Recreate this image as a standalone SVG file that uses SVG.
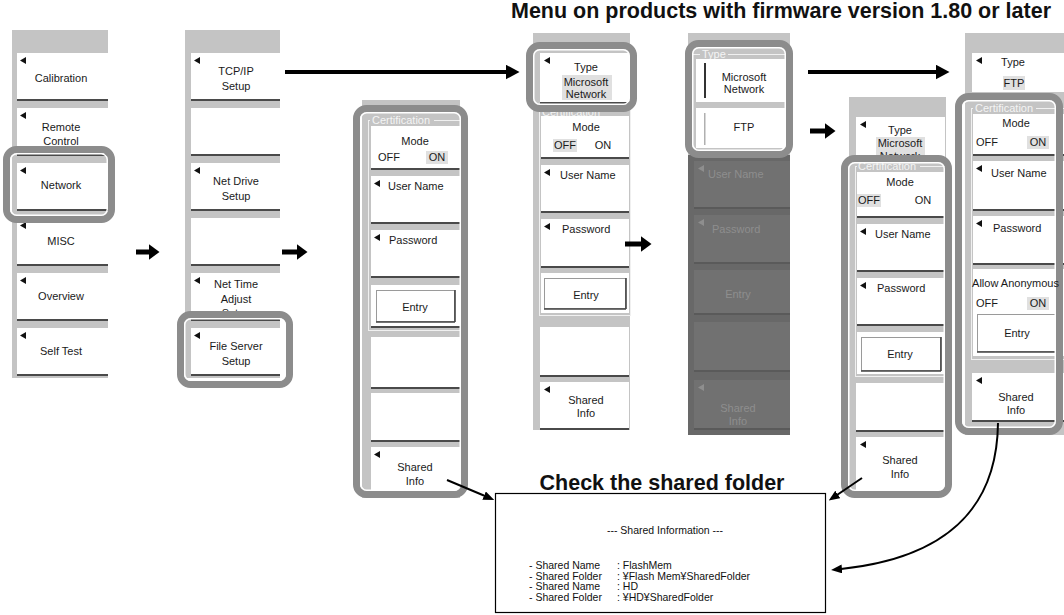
<svg xmlns="http://www.w3.org/2000/svg" width="1064" height="615" viewBox="0 0 1064 615">
<style>
.pg{fill:#c4c4c4}
.pd{fill:#686868}
.bt{fill:#fff}
.bg{fill:#717171}
.dl{fill:#4a4a4a}
.dg{fill:#5a5a5a}
.sel{fill:#e0e0e0}
.t{font-family:"Liberation Sans",Arial,sans-serif;font-size:11px;fill:#1a1a1a;text-anchor:middle}
.ts{text-anchor:start}
.gt{fill:#8e8e8e}
.lb{font-family:"Liberation Sans",Arial,sans-serif;font-size:11px;fill:#f4f4f4}
.fr{fill:none;stroke:#f0f0f0;stroke-width:1}
.hl{fill:none;stroke:#8c8c8c;stroke-width:7}
.hw{fill:none;stroke:#fff;stroke-width:1.5}
.eb{fill:#fff;stroke:#9a9a9a;stroke-width:1}
.er{stroke:#444;stroke-width:1.6}
.ttl{font-family:"Liberation Sans",Arial,sans-serif;font-size:21.5px;font-weight:bold;fill:#111;text-anchor:middle}
.bx{font-family:"Liberation Sans",Arial,sans-serif;font-size:10.5px;fill:#111}
.cn{fill:none;stroke:#000}
.tri{fill:#111}
.trg{fill:#8e8e8e}
</style>
<defs>
<path id="tri" d="M0,3.5 L6,0 L6,7 z"/>
<marker id="hs" markerUnits="userSpaceOnUse" markerWidth="11" markerHeight="16" refX="0.5" refY="8" orient="auto"><path d="M0,0 L11,8 L0,16 z" fill="#000"/></marker>
<marker id="hl" markerUnits="userSpaceOnUse" markerWidth="14" markerHeight="15" refX="0.5" refY="7.5" orient="auto"><path d="M0,0 L14,7.5 L0,15 z" fill="#000"/></marker>
<marker id="hm" markerUnits="userSpaceOnUse" markerWidth="11" markerHeight="9" refX="1" refY="4.5" orient="auto"><path d="M0,0 L11,4.5 L0,9 z" fill="#000"/></marker>
</defs>

<text class="ttl" x="781" y="18">Menu on products with firmware version 1.80 or later</text>

<g id="menu-system">
<rect class="pg" x="12" y="30" width="96" height="348"/>
<rect class="bt" x="17" y="53" width="91" height="46"/><rect class="dl" x="17" y="99" width="91" height="2"/>
<rect class="bt" x="17" y="108" width="91" height="46"/><rect class="dl" x="17" y="154" width="91" height="2"/>
<rect class="bt" x="17" y="163" width="91" height="46"/><rect class="dl" x="17" y="209" width="91" height="2"/>
<rect class="bt" x="17" y="218" width="91" height="46"/><rect class="dl" x="17" y="264" width="91" height="2"/>
<rect class="bt" x="17" y="273" width="91" height="46"/><rect class="dl" x="17" y="319" width="91" height="2"/>
<rect class="bt" x="17" y="328" width="91" height="46"/><rect class="dl" x="17" y="374" width="91" height="2"/>
<use href="#tri" class="tri" x="20" y="57"/><use href="#tri" class="tri" x="20" y="112"/><use href="#tri" class="tri" x="20" y="167"/>
<use href="#tri" class="tri" x="20" y="222"/><use href="#tri" class="tri" x="20" y="277"/><use href="#tri" class="tri" x="20" y="332"/>
<text class="t" x="61" y="82">Calibration</text>
<text class="t" x="61" y="131">Remote</text><text class="t" x="61" y="145">Control</text>
<text class="t" x="61" y="189">Network</text>
<text class="t" x="61" y="245">MISC</text>
<text class="t" x="61" y="300">Overview</text>
<text class="t" x="61" y="355">Self Test</text>
<rect class="hl" x="6.5" y="149.5" width="105" height="70" rx="10"/>
<rect class="hw" x="10.75" y="153.75" width="96.5" height="61.5" rx="6"/>
</g>

<g id="menu-network">
<rect class="pg" x="185" y="30" width="95" height="348"/>
<rect class="bt" x="191" y="53" width="89" height="46"/><rect class="dl" x="191" y="99" width="89" height="2"/>
<rect class="bt" x="191" y="108" width="89" height="46"/><rect class="dl" x="191" y="154" width="89" height="2"/>
<rect class="bt" x="191" y="163" width="89" height="46"/><rect class="dl" x="191" y="209" width="89" height="2"/>
<rect class="bt" x="191" y="218" width="89" height="46"/><rect class="dl" x="191" y="264" width="89" height="2"/>
<rect class="bt" x="191" y="273" width="89" height="46"/><rect class="dl" x="191" y="319" width="89" height="2"/>
<rect class="bt" x="191" y="328" width="89" height="46"/><rect class="dl" x="191" y="374" width="89" height="2"/>
<use href="#tri" class="tri" x="194" y="57"/><use href="#tri" class="tri" x="194" y="167"/>
<use href="#tri" class="tri" x="194" y="277"/><use href="#tri" class="tri" x="194" y="332"/>
<text class="t" x="236" y="75">TCP/IP</text><text class="t" x="236" y="90">Setup</text>
<text class="t" x="236" y="185">Net Drive</text><text class="t" x="236" y="200">Setup</text>
<text class="t" x="236" y="288">Net Time</text><text class="t" x="236" y="303">Adjust</text><text class="t" x="236" y="317">Setup</text>
<text class="t" x="236" y="350">File Server</text><text class="t" x="236" y="365">Setup</text>
<rect class="hl" x="180.5" y="314.5" width="109" height="70" rx="10"/>
<rect class="hw" x="184.75" y="318.75" width="100.5" height="61.5" rx="6"/>
</g>

<g id="menu-fileserver-old">
<rect class="pg" x="362" y="100" width="98" height="398"/>
<rect class="fr" x="368.5" y="120.5" width="92" height="210"/>
<rect class="pg" x="370" y="114" width="64" height="12"/>
<text class="lb" x="372" y="124">Certification</text>
<rect class="bt" x="371" y="126" width="89" height="42"/><rect class="dl" x="371" y="168" width="89" height="2"/>
<text class="t" x="415" y="145">Mode</text>
<rect class="sel" x="426" y="151" width="22" height="13"/>
<text class="t" x="389" y="161">OFF</text><text class="t" x="437" y="161">ON</text>
<rect class="bt" x="371" y="176" width="89" height="46"/><rect class="dl" x="371" y="222" width="89" height="2"/>
<use href="#tri" class="tri" x="374" y="180"/><text class="t ts" x="388" y="190">User Name</text>
<rect class="bt" x="371" y="230" width="89" height="46"/><rect class="dl" x="371" y="276" width="89" height="2"/>
<use href="#tri" class="tri" x="374" y="234"/><text class="t ts" x="389" y="244">Password</text>
<rect class="bt" x="371" y="285" width="89" height="41"/><rect class="dl" x="371" y="326" width="89" height="2"/>
<rect class="eb" x="376.5" y="290.5" width="78" height="31"/>
<line class="er" x1="455" y1="290" x2="455" y2="322"/><line class="er" x1="376" y1="322" x2="455" y2="322"/>
<text class="t" x="415" y="311">Entry</text>
<rect class="bt" x="371" y="337" width="89" height="50"/><rect class="dl" x="371" y="387" width="89" height="2"/>
<rect class="bt" x="371" y="393" width="89" height="47"/><rect class="dl" x="371" y="440" width="89" height="2"/>
<rect class="bt" x="371" y="447" width="89" height="48"/>
<use href="#tri" class="tri" x="374" y="451"/>
<text class="t" x="415" y="471">Shared</text><text class="t" x="415" y="485">Info</text>
<rect class="hl" x="356.5" y="108.5" width="108" height="386" rx="10"/>
<rect class="hw" x="360.75" y="112.75" width="99.5" height="377.5" rx="6"/>
</g>

<g id="menu-msnet">
<rect class="pg" x="533" y="33" width="97" height="397"/>
<rect class="bt" x="540" y="53" width="89" height="49"/><rect class="dl" x="540" y="102" width="89" height="2"/>
<use href="#tri" class="tri" x="544" y="57"/>
<text class="t" x="586" y="71">Type</text>
<rect class="sel" x="562" y="75" width="50" height="25"/>
<text class="t" x="586" y="86">Microsoft</text><text class="t" x="586" y="98">Network</text>
<rect class="fr" x="539.5" y="108.5" width="91" height="207"/>
<rect class="pg" x="541" y="105" width="64" height="8"/>
<text class="lb" x="542" y="116">Certification</text>
<rect class="bt" x="541" y="116" width="88" height="41"/><rect class="dl" x="541" y="157" width="88" height="2"/>
<text class="t" x="586" y="131">Mode</text>
<rect class="sel" x="553" y="139" width="24" height="13"/>
<text class="t" x="565" y="149">OFF</text><text class="t" x="603" y="149">ON</text>
<rect class="bt" x="541" y="165" width="88" height="46"/><rect class="dl" x="541" y="211" width="88" height="2"/>
<use href="#tri" class="tri" x="544" y="169"/><text class="t ts" x="560" y="179">User Name</text>
<rect class="bt" x="541" y="219" width="88" height="47"/><rect class="dl" x="541" y="266" width="88" height="2"/>
<use href="#tri" class="tri" x="544" y="223"/><text class="t ts" x="562" y="233">Password</text>
<rect class="bt" x="541" y="273" width="88" height="40"/>
<rect class="eb" x="544.5" y="278.5" width="81" height="30"/>
<line class="er" x1="626" y1="278" x2="626" y2="309"/><line class="er" x1="544" y1="309" x2="626" y2="309"/>
<text class="t" x="586" y="299">Entry</text>
<rect class="bt" x="540" y="327" width="89" height="48"/><rect class="dl" x="540" y="375" width="89" height="2"/>
<rect class="bt" x="540" y="382" width="89" height="46"/><rect class="dl" x="540" y="428" width="89" height="2"/>
<use href="#tri" class="tri" x="544" y="386"/>
<text class="t" x="586" y="404">Shared</text><text class="t" x="586" y="417">Info</text>
<rect class="hl" x="529.5" y="45.5" width="104" height="63" rx="10"/>
<rect class="hw" x="533.75" y="49.75" width="95.5" height="54.5" rx="6"/>
</g>

<g id="menu-type-select">
<rect class="pd" x="688" y="33" width="102" height="402"/>
<rect class="pg" x="688" y="33" width="102" height="122"/>
<rect class="fr" x="692.5" y="54.5" width="98" height="98"/>
<rect class="pg" x="700" y="49" width="28" height="11"/>
<text class="lb" x="702" y="58">Type</text>
<rect class="bt" x="696" y="59" width="94" height="43"/>
<rect x="704" y="63" width="2" height="35" fill="#333"/>
<text class="t" x="744" y="81">Microsoft</text><text class="t" x="744" y="93">Network</text>
<rect class="bt" x="696" y="108" width="94" height="40"/>
<rect x="704" y="113" width="1.5" height="32" fill="#b0b0b0"/>
<text class="t" x="744" y="131">FTP</text>
<rect class="bg" x="694" y="161" width="96" height="46"/><rect class="dg" x="694" y="207" width="96" height="2"/>
<use href="#tri" class="trg" x="698" y="165"/><text class="t ts gt" x="708" y="178">User Name</text>
<rect class="bg" x="694" y="215" width="96" height="47"/><rect class="dg" x="694" y="262" width="96" height="2"/>
<use href="#tri" class="trg" x="698" y="219"/><text class="t ts gt" x="712" y="233">Password</text>
<rect class="bg" x="694" y="270" width="96" height="43"/><rect class="dg" x="694" y="313" width="96" height="2"/>
<text class="t gt" x="738" y="298">Entry</text>
<rect class="bg" x="694" y="322" width="96" height="48"/><rect class="dg" x="694" y="370" width="96" height="2"/>
<rect class="bg" x="694" y="380" width="96" height="48"/><rect class="dg" x="694" y="428" width="96" height="2"/>
<use href="#tri" class="trg" x="698" y="384"/>
<text class="t gt" x="738" y="412">Shared</text><text class="t gt" x="738" y="425">Info</text>
<rect class="hl" x="688.5" y="43.5" width="101" height="111" rx="10"/>
<rect class="hw" x="692.75" y="47.75" width="92.5" height="102.5" rx="6"/>
</g>

<g id="menu-msnet-cert">
<rect class="pg" x="849" y="97" width="97" height="395"/>
<rect class="bt" x="856" y="117" width="89" height="40"/>
<use href="#tri" class="tri" x="860" y="121"/>
<text class="t" x="900" y="134">Type</text>
<rect class="sel" x="876" y="137" width="49" height="24"/>
<text class="t" x="900" y="147">Microsoft</text><text class="t" x="900" y="160">Network</text>
<rect class="fr" x="855.5" y="166.5" width="91" height="210"/>
<rect class="pg" x="857" y="161" width="63" height="11"/>
<text class="lb" x="858" y="170">Certification</text>
<rect class="bt" x="857" y="172" width="88" height="44"/><rect class="dl" x="857" y="216" width="88" height="2"/>
<text class="t" x="900" y="186">Mode</text>
<rect class="sel" x="857" y="194" width="24" height="13"/>
<text class="t" x="869" y="204">OFF</text><text class="t" x="923" y="204">ON</text>
<rect class="bt" x="857" y="224" width="88" height="46"/><rect class="dl" x="857" y="270" width="88" height="2"/>
<use href="#tri" class="tri" x="860" y="228"/><text class="t ts" x="875" y="238">User Name</text>
<rect class="bt" x="857" y="278" width="88" height="46"/><rect class="dl" x="857" y="324" width="88" height="2"/>
<use href="#tri" class="tri" x="860" y="282"/><text class="t ts" x="877" y="292">Password</text>
<rect class="bt" x="857" y="332" width="88" height="42"/>
<rect class="eb" x="861.5" y="337.5" width="79" height="33"/>
<line class="er" x1="941" y1="337" x2="941" y2="371"/><line class="er" x1="861" y1="371" x2="941" y2="371"/>
<text class="t" x="900" y="358">Entry</text>
<rect class="bt" x="856" y="383" width="89" height="47"/><rect class="dl" x="856" y="430" width="89" height="2"/>
<rect class="bt" x="856" y="437" width="89" height="53"/>
<use href="#tri" class="tri" x="860" y="441"/>
<text class="t" x="900" y="464">Shared</text><text class="t" x="900" y="478">Info</text>
<rect class="hl" x="844.5" y="158.5" width="104" height="336" rx="10"/>
<rect class="hw" x="848.75" y="162.75" width="95.5" height="327.5" rx="6"/>
</g>

<g id="menu-ftp">
<rect class="pg" x="965" y="33" width="99" height="402"/>
<rect class="bt" x="972" y="53" width="92" height="39"/>
<use href="#tri" class="tri" x="976" y="57"/>
<text class="t" x="1013" y="66">Type</text>
<rect class="sel" x="1003" y="76" width="22" height="14"/>
<text class="t" x="1014" y="87">FTP</text>
<rect class="fr" x="971.5" y="108.5" width="94" height="251"/>
<rect class="pg" x="973" y="103" width="63" height="11"/>
<text class="lb" x="975" y="112">Certification</text>
<rect class="bt" x="973" y="114" width="91" height="40"/><rect class="dl" x="973" y="154" width="91" height="2"/>
<text class="t" x="1016" y="127">Mode</text>
<rect class="sel" x="1027" y="136" width="22" height="13"/>
<text class="t" x="987" y="146">OFF</text><text class="t" x="1038" y="146">ON</text>
<rect class="bt" x="973" y="161" width="91" height="48"/><rect class="dl" x="973" y="209" width="91" height="2"/>
<use href="#tri" class="tri" x="976" y="165"/><text class="t ts" x="991" y="177">User Name</text>
<rect class="bt" x="973" y="216" width="91" height="47"/><rect class="dl" x="973" y="263" width="91" height="2"/>
<use href="#tri" class="tri" x="976" y="220"/><text class="t ts" x="993" y="232">Password</text>
<rect class="bt" x="973" y="269" width="91" height="87"/>
<rect class="sel" x="1027" y="297" width="22" height="13"/>
<text class="t" x="987" y="307">OFF</text><text class="t" x="1038" y="307">ON</text>
<rect class="eb" x="977.5" y="314.5" width="79" height="37"/>
<line class="er" x1="1057" y1="314" x2="1057" y2="352"/><line class="er" x1="977" y1="352" x2="1057" y2="352"/>
<text class="t" x="1017" y="337">Entry</text>
<rect class="bt" x="972" y="373" width="92" height="47"/><rect class="dl" x="972" y="420" width="92" height="2"/>
<use href="#tri" class="tri" x="976" y="377"/>
<text class="t" x="1016" y="401">Shared</text><text class="t" x="1016" y="414">Info</text>
<rect class="hl" x="958.5" y="96.5" width="101" height="335" rx="10"/>
<rect class="hw" x="962.75" y="100.75" width="92.5" height="326.5" rx="6"/>
<text class="t" x="1015.5" y="287">Allow Anonymous</text>
</g>

<g id="shared-info-box">
<text class="ttl" x="662" y="490">Check the shared folder</text>
<rect x="495.5" y="493.5" width="330" height="119" fill="#fff" stroke="#000" stroke-width="1.2"/>
<text class="bx" x="665" y="534" text-anchor="middle">--- Shared Information ---</text>
<text class="bx" x="529" y="569">- Shared Name</text><text class="bx" x="617" y="569">: FlashMem</text>
<text class="bx" x="529" y="579.5">- Shared Folder</text><text class="bx" x="617" y="579.5">: ¥Flash Mem¥SharedFolder</text>
<text class="bx" x="529" y="590">- Shared Name</text><text class="bx" x="617" y="590">: HD</text>
<text class="bx" x="529" y="600.5">- Shared Folder</text><text class="bx" x="617" y="600.5">: ¥HD¥SharedFolder</text>
</g>

<g id="connectors">
<line class="cn" x1="136" y1="252" x2="149" y2="252" stroke-width="5" marker-end="url(#hs)"/>
<line class="cn" x1="282" y1="252" x2="297" y2="252" stroke-width="5" marker-end="url(#hs)"/>
<line class="cn" x1="285" y1="72" x2="506" y2="72" stroke-width="4" marker-end="url(#hl)"/>
<line class="cn" x1="625" y1="244" x2="641" y2="244" stroke-width="5" marker-end="url(#hs)"/>
<line class="cn" x1="808" y1="72" x2="936" y2="72" stroke-width="4" marker-end="url(#hl)"/>
<line class="cn" x1="810" y1="131" x2="825" y2="131" stroke-width="5" marker-end="url(#hs)"/>
<line class="cn" x1="447" y1="480" x2="485" y2="496" stroke-width="2" marker-end="url(#hm)"/>
<line class="cn" x1="862" y1="478" x2="837" y2="495" stroke-width="2" marker-end="url(#hm)"/>
<path class="cn" d="M998,423 C997,510 945,558 841,569" stroke-width="2" marker-end="url(#hm)"/>
</g>
</svg>
